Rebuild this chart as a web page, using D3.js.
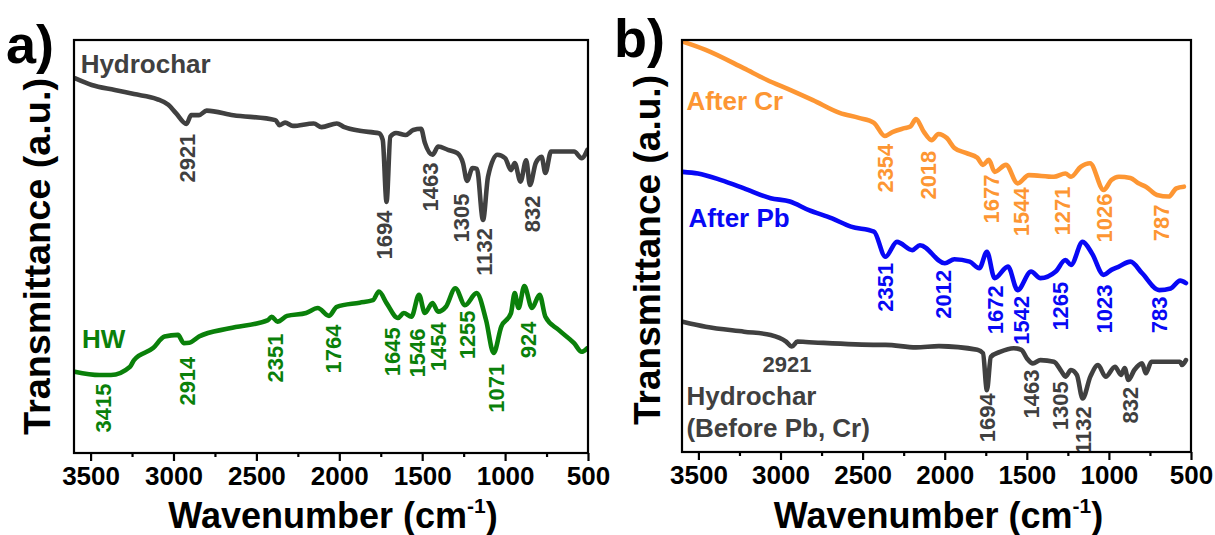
<!DOCTYPE html>
<html><head><meta charset="utf-8">
<script src="https://cdn.jsdelivr.net/npm/d3@7"></script>
<style>
body{margin:0;background:#fff}
text{font-family:"Liberation Sans",Arial,sans-serif;font-weight:bold}
</style>
</head><body>
<svg id="c" width="1215" height="535"></svg>
<script>
// ---------- DATA (wavenumber cm-1, transmittance a.u. 0-100) ----------
const hydrocharA = [[3592,90.7],[3493,89.1],[3354,87.9],[3238,86.9],[3100,85.7],[3031,84.3],[2985,82.3],[2922,79.7],[2893,81.8],[2846,81.8],[2800,82.9],[2639,81.8],[2385,80.6],[2361,79.4],[2327,80.0],[2280,79.2],[2154,79.8],[2107,78.9],[2015,79.8],[1969,78.9],[1877,78.0],[1761,77.4],[1738,75.8],[1715,60.8],[1692,76.6],[1658,77.5],[1600,77.0],[1554,78.2],[1507,78.5],[1484,75.1],[1438,72.2],[1403,74.2],[1345,73.4],[1288,72.6],[1254,70.2],[1230,65.9],[1196,69.0],[1170,68.8],[1133,56.4],[1103,66.9],[1046,72.2],[1000,71.4],[964,68.5],[942,70.2],[907,65.7],[873,70.9],[850,64.9],[815,70.2],[780,71.7],[757,67.8],[723,73.0],[584,73.0],[538,71.4],[504,73.4]];
const hwA = [[3596,19.7],[3446,18.9],[3377,18.9],[3262,20.9],[3238,22.5],[3123,25.4],[3054,28.2],[2973,28.6],[2938,26.6],[2904,26.7],[2846,28.2],[2661,30.2],[2430,32.2],[2408,33.0],[2373,31.8],[2315,33.2],[2200,33.9],[2130,35.1],[2062,33.2],[2015,35.4],[1877,36.4],[1797,37.0],[1761,39.1],[1715,36.3],[1646,32.7],[1611,33.9],[1565,33.0],[1519,38.3],[1484,33.9],[1438,36.3],[1404,34.2],[1357,35.4],[1300,39.9],[1242,35.8],[1172,38.7],[1115,32.2],[1069,24.2],[1023,30.6],[965,33.8],[942,38.7],[919,35.1],[884,40.4],[838,35.1],[792,38.3],[757,33.0],[677,29.8],[584,26.6],[538,24.5],[504,25.4]];
const afterCr = [[3596,99.6],[3456,97.6],[3222,93.1],[3082,90.3],[2942,87.9],[2803,85.4],[2640,82.3],[2523,81.1],[2431,79.9],[2365,76.7],[2315,77.7],[2244,78.6],[2209,79.0],[2175,80.8],[2127,77.7],[2080,75.7],[2038,77.2],[1987,76.2],[1941,73.8],[1871,72.6],[1801,71.4],[1767,69.7],[1731,70.9],[1696,68.0],[1627,69.7],[1556,65.2],[1487,67.2],[1335,66.8],[1265,67.6],[1231,66.8],[1172,69.2],[1115,70.1],[1032,63.6],[985,66.0],[939,66.8],[869,66.5],[823,65.3],[775,64.4],[707,62.4],[636,62.0],[589,64.0],[543,64.4]];
const afterPb = [[3596,68.0],[3503,67.6],[3362,66.0],[3222,64.0],[3060,61.6],[2943,60.8],[2827,58.7],[2686,56.7],[2571,54.7],[2431,53.5],[2361,47.4],[2291,51.0],[2197,49.0],[2151,50.2],[1999,45.8],[1941,46.8],[1848,46.2],[1789,44.6],[1743,48.6],[1696,42.2],[1615,45.0],[1556,39.3],[1474,43.8],[1417,42.2],[1324,43.8],[1265,46.6],[1231,45.4],[1160,51.0],[1103,48.2],[1032,43.0],[985,44.2],[939,45.0],[869,46.2],[798,43.4],[694,39.3],[624,39.7],[566,41.6],[531,41.0]];
const hydrocharB = [[3596,31.6],[3456,30.4],[3222,29.2],[3060,28.4],[2966,26.8],[2931,25.6],[2897,26.8],[2846,26.7],[2406,26.0],[2361,26.0],[2175,25.4],[2035,25.7],[1801,24.8],[1767,24.0],[1743,15.0],[1719,23.1],[1663,24.3],[1580,25.2],[1533,24.8],[1499,22.7],[1463,21.5],[1417,22.3],[1335,21.9],[1288,19.5],[1265,18.3],[1231,19.9],[1195,18.7],[1160,13.0],[1113,18.3],[1066,21.1],[1020,18.3],[963,20.7],[926,18.7],[904,20.4],[881,17.5],[845,19.9],[798,21.5],[775,19.1],[741,21.9],[567,21.9],[555,21.1],[531,22.3]];

const majorTicks = [3500,3000,2500,2000,1500,1000,500];
const minorTicks = [3250,2750,2250,1750,1250,750];

// peak labels: [text, wavenumber, a.u. centre]
const peaksHydroA = [["2921",2915,71.4],["1694",1727,52.8],["1463",1450,64.4],["1305",1266,56.9],["1132",1127,48.7],["832",838,57.9]];
const peaksHwA = [["3415",3425,10.9],["2914",2915,17.4],["2351",2385,23.0],["1764",2038,25.2],["1645",1682,24.5],["1546",1531,24.2],["1454",1405,25.7],["1255",1230,28.6],["1071",1057,15.7],["924",862,27.4]];
const peaksCr = [["2354",2361,68.9],["2018",2104,67.2],["1677",1719,61.4],["1544",1533,58.3],["1271",1288,58.5],["1026",1032,56.8],["787",683,55.6]];
const peaksPb = [["2351",2361,40.0],["2012",2010,38.3],["1672",1696,34.5],["1542",1533,32.0],["1265",1300,35.4],["1023",1032,34.7],["783",695,33.3]];
const peaksHydroB = [["1694",1743,8.3],["1463",1475,14.1],["1305",1300,11.2],["1132",1160,5.3],["832",869,11.4]];

const GRAY="#404040", GREEN="#0a800a", BLUE="#0808f5", ORANGE="#fd9633";

const svg = d3.select("#c");

function panel(cfg){
  const x = d3.scaleLinear().domain([3600,500]).range([cfg.l,cfg.r]);
  const y = d3.scaleLinear().domain([0,100]).range([cfg.b,cfg.t]);
  const g = svg.append("g");
  const cid = "clip"+cfg.id;
  svg.append("clipPath").attr("id",cid).append("rect")
    .attr("x",cfg.l).attr("y",cfg.t).attr("width",cfg.r-cfg.l).attr("height",cfg.b-cfg.t);
  const inner = g.append("g").attr("clip-path","url(#"+cid+")");
  const line = d3.line().x(d=>x(d[0])).y(d=>y(d[1])).curve(d3.curveMonotoneX);
  cfg.series.forEach(s=>{
    inner.append("path").datum(s.data).attr("d",line).attr("fill","none")
      .attr("stroke",s.color).attr("stroke-width",4.6).attr("stroke-linejoin","round").attr("stroke-linecap","round");
    s.peaks.forEach(p=>{
      inner.append("text").attr("transform",`translate(${x(p[1])},${y(p[2])}) rotate(-90)`)
        .attr("text-anchor","middle").attr("dy","0.36em").attr("font-size",22).attr("fill",s.color).text(p[0]);
    });
  });
  cfg.labels.forEach(l=>{
    inner.append("text").attr("x",x(l.wn)).attr("y",y(l.v)).attr("text-anchor",l.anchor||"start")
      .attr("font-size",l.size||26).attr("fill",l.color).text(l.text);
  });
  // frame
  g.append("rect").attr("x",cfg.l).attr("y",cfg.t).attr("width",cfg.r-cfg.l).attr("height",cfg.b-cfg.t)
    .attr("fill","none").attr("stroke","#000").attr("stroke-width",2.2);
  // axes
  const ax = g.append("g").attr("transform",`translate(0,${cfg.b})`)
    .call(d3.axisBottom(x).tickValues(majorTicks).tickSize(8).tickPadding(6).tickFormat(d3.format("d")));
  ax.select(".domain").remove();
  ax.selectAll("line").attr("stroke","#000").attr("stroke-width",2.2);
  ax.selectAll("text").attr("font-size",26).attr("fill","#000").attr("font-family","Liberation Sans").attr("font-weight","bold");
  const mx = g.append("g").attr("transform",`translate(0,${cfg.b})`)
    .call(d3.axisBottom(x).tickValues(minorTicks).tickSize(4).tickFormat(""));
  mx.select(".domain").remove();
  mx.selectAll("line").attr("stroke","#000").attr("stroke-width",2.2);
  // x title
  const xt = g.append("text").attr("x",(cfg.l+cfg.r)/2+2).attr("y",528).attr("text-anchor","middle")
    .attr("font-size",36).attr("fill","#000");
  xt.append("tspan").text("Wavenumber (cm");
  xt.append("tspan").attr("font-size",21).attr("dy",-15).text("-1");
  xt.append("tspan").attr("dy",15).text(")");
  // y title
  g.append("text").attr("transform",`translate(${cfg.yt},${(cfg.t+cfg.b)/2+ cfg.ytOff}) rotate(-90)`)
    .attr("text-anchor","middle").attr("font-size",37).attr("textLength",cfg.ytLen).attr("lengthAdjust","spacingAndGlyphs")
    .attr("fill","#000").text("Transmittance (a.u.)");
  // panel letter
  g.append("text").attr("x",cfg.letterX).attr("y",cfg.letterY).attr("font-size",54).attr("fill","#000").text(cfg.letter);
}

panel({id:"a",l:74,r:588,t:40,b:453,yt:50,ytOff:10,ytLen:357,letter:"a)",letterX:6,letterY:63,
  series:[{data:hydrocharA,color:GRAY,peaks:peaksHydroA},{data:hwA,color:GREEN,peaks:peaksHwA}],
  labels:[{text:"Hydrochar",wn:3560,v:92.0,color:GRAY},{text:"HW",wn:3552,v:25.4,color:GREEN}]});

panel({id:"b",l:682,r:1191,t:40,b:452,yt:660,ytOff:4,ytLen:350,letter:"b)",letterX:614,letterY:57,
  series:[{data:afterCr,color:ORANGE,peaks:peaksCr},{data:afterPb,color:BLUE,peaks:peaksPb},{data:hydrocharB,color:GRAY,peaks:peaksHydroB}],
  labels:[{text:"After Cr",wn:3573,v:83.0,color:ORANGE},{text:"After Pb",wn:3560,v:54.6,color:BLUE},
          {text:"2921",wn:2961,v:19.4,color:GRAY,anchor:"middle",size:22},
          {text:"Hydrochar",wn:3573,v:11.4,color:GRAY},{text:"(Before Pb, Cr)",wn:3573,v:3.7,color:GRAY}]});
</script>
</body></html>
